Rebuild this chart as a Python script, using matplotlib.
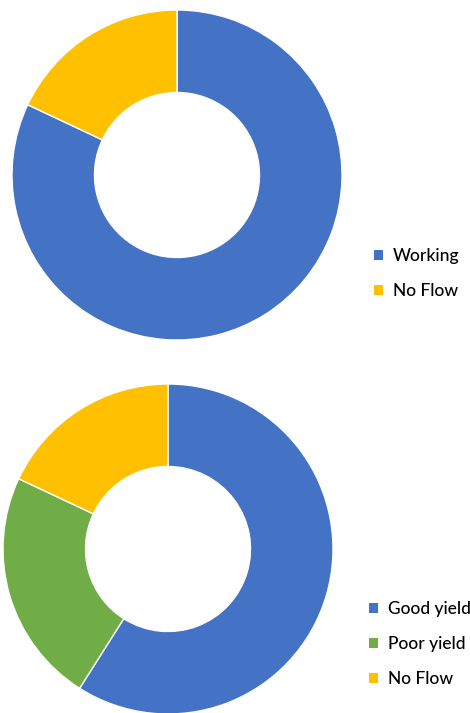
import matplotlib.pyplot as plt
from matplotlib.patches import Patch

# status of the wells
top_labels = ['Working', 'No Flow']
top_values = [82, 18]
top_colors = ['#4472C4', '#FFC000']

# yield of the wells
bottom_labels = ['Good yield', 'Poor yield', 'No Flow']
bottom_values = [59, 23, 18]
bottom_colors = ['#4472C4', '#70AD47', '#FFC000']

W, H = 470, 713
plt.rcParams['font.family'] = ['Lato', 'DejaVu Sans']

fig = plt.figure(figsize=(W / 100, H / 100), dpi=100)


def donut(cx, cy, r, values, colors, labels, leg_x, leg_y):
    # cx, cy, r in pixels from the top left corner
    ax = fig.add_axes([(cx - r) / W, 1 - (cy + r) / H, 2 * r / W, 2 * r / H])
    ax.pie(values, colors=colors, startangle=90, counterclock=False,
           radius=1, wedgeprops=dict(width=0.5, edgecolor='white', linewidth=1))
    ax.set_xlim(-1, 1)
    ax.set_ylim(-1, 1)
    ax.set_aspect('equal')
    ax.axis('off')
    handles = [Patch(facecolor=c, edgecolor='none') for c in colors]
    fig.legend(handles, labels, loc='upper left',
               bbox_to_anchor=(leg_x / W, 1 - leg_y / H),
               frameon=False, borderpad=0, borderaxespad=0,
               handlelength=0.52, handleheight=0.52, handletextpad=0.55,
               labelspacing=1.1, prop={'weight': 'medium', 'size': 12.5})


donut(177, 175, 165, top_values, top_colors, top_labels, 374, 248)
donut(168, 549, 165, bottom_values, bottom_colors, bottom_labels, 369, 601)

fig.savefig('out.png', dpi=100)
